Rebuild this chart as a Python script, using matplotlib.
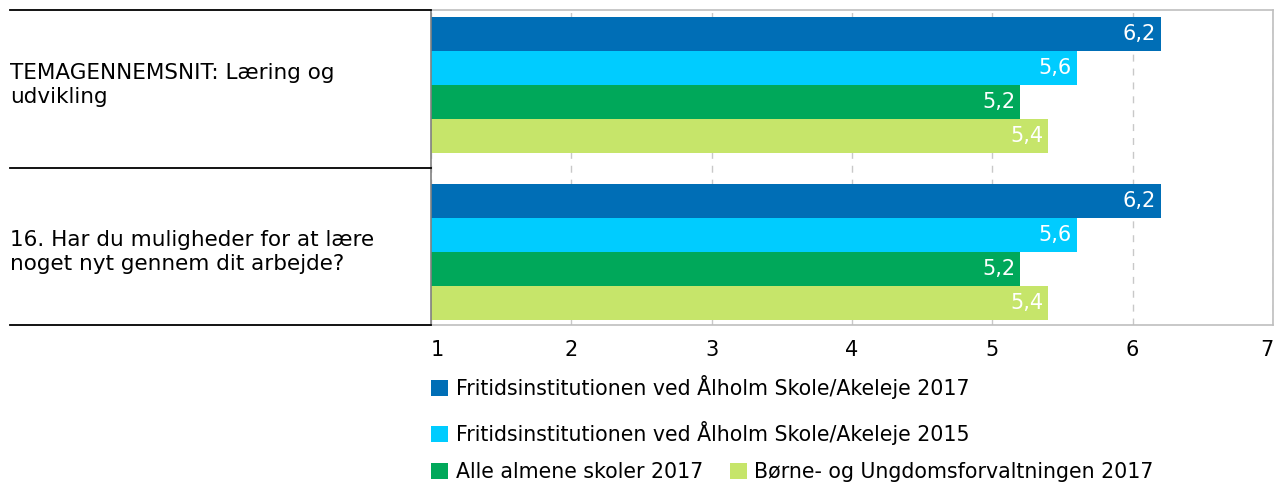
import matplotlib
matplotlib.use("Agg")
import matplotlib.pyplot as plt
import matplotlib.transforms as mtransforms
from matplotlib.lines import Line2D
from matplotlib.patches import Patch
import numpy as np

plt.rcParams['font.family'] = ['DejaVu Sans']

categories = ["TEMAGENNEMSNIT: Læring og\nudvikling",
              "16. Har du muligheder for at lære\nnoget nyt gennem dit arbejde?"]
series_names = ["Fritidsinstitutionen ved Ålholm Skole/Akeleje 2017",
                "Fritidsinstitutionen ved Ålholm Skole/Akeleje 2015",
                "Alle almene skoler 2017",
                "Børne- og Ungdomsforvaltningen 2017"]
values = [[6.2, 6.2],
          [5.6, 5.6],
          [5.2, 5.2],
          [5.4, 5.4]]
value_labels = [["6,2", "6,2"], ["5,6", "5,6"], ["5,2", "5,2"], ["5,4", "5,4"]]
colors = ["#006EB6", "#00CCFF", "#00A85A", "#C6E56A"]
xticks = [1, 2, 3, 4, 5, 6, 7]

W, H = 1275, 486
fig = plt.figure(figsize=(W / 100, H / 100), dpi=100)
ax = fig.add_axes([431 / W, 1 - 325 / H, (1273 - 431) / W, (325 - 10) / H])

h = 34 / 167
y = np.arange(len(categories))
for i, (name, vals, col) in enumerate(zip(series_names, values, colors)):
    ypos = y + (i - 1.5) * h
    widths = np.array(vals) - 1
    ax.barh(ypos, widths, left=1, height=h, color=col, label=name, zorder=2)
    for yy, v, lab in zip(ypos, vals, value_labels[i]):
        ax.annotate(lab, xy=(v, yy), xytext=(-3.5, 0), textcoords='offset points',
                    ha='right', va='center', color='white', fontsize=15, zorder=3)

ax.set_xlim(1, 7)
ax.set_ylim(1 + 73 / 167, -75 / 167)
ax.set_xticks(xticks)
ax.set_xticklabels([str(t) for t in xticks], fontsize=15)
tl = ax.get_xticklabels()
tl[0].set_ha('left')
tl[-1].set_ha('right')
ax.set_yticks([])
ax.tick_params(axis='x', length=0, pad=11)
ax.grid(axis='x', linestyle=(0, (5, 5)), color='#c8c8c8', linewidth=1, zorder=0)
ax.set_axisbelow(True)
for s in ['top', 'right', 'bottom']:
    ax.spines[s].set_color('#bfbfbf')
    ax.spines[s].set_linewidth(1.2)
ax.spines['left'].set_color('#808080')
ax.spines['left'].set_linewidth(1.2)

# category labels
trans = mtransforms.blended_transform_factory(fig.transFigure, ax.transData)
for yy, cat in zip(y, categories):
    ax.text(10 / W, yy, cat, transform=trans, ha='left', va='center',
            fontsize=15.5, linespacing=1.3, clip_on=False)

# separator lines in label panel
for py in [10, 168, 325]:
    fig.add_artist(Line2D([10 / W, 431 / W], [1 - py / H, 1 - py / H],
                          color='black', linewidth=1.3, transform=fig.transFigure))

# legends
handles = [Patch(facecolor=c, edgecolor='none') for c in colors]
leg_kw = dict(frameon=False, fontsize=14.8, handlelength=0.85, handleheight=0.85,
              handletextpad=0.35, borderpad=0, borderaxespad=0, loc='center left',
              columnspacing=1.3)
l1 = fig.legend([handles[0]], [series_names[0]], bbox_to_anchor=(431 / W, 1 - 387 / H), **leg_kw)
l2 = fig.legend([handles[1]], [series_names[1]], bbox_to_anchor=(431 / W, 1 - 433 / H), **leg_kw)
l3 = fig.legend(handles[2:], series_names[2:], ncol=2, bbox_to_anchor=(431 / W, 1 - 472 / H), **leg_kw)

fig.savefig("out.png", dpi=100)
